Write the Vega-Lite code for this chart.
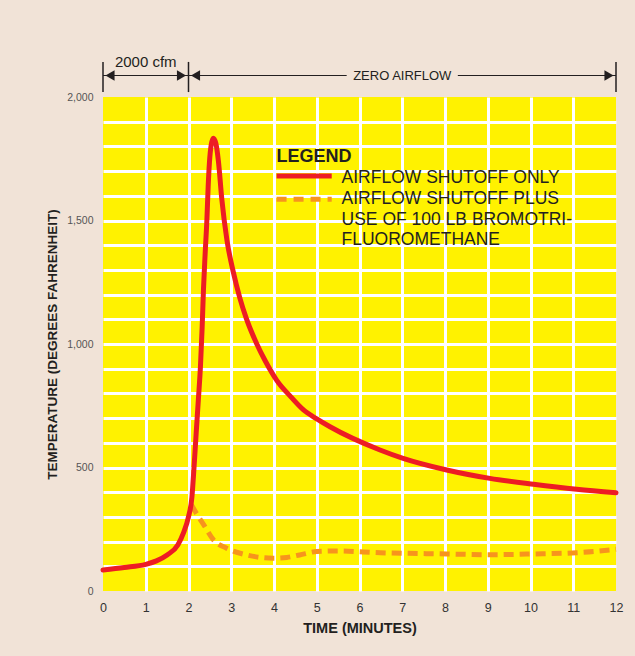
{
  "$schema": "https://vega.github.io/schema/vega-lite/v6.json",
  "width": 513,
  "height": 494,
  "autosize": "none",
  "padding": {"left": 103, "top": 97, "right": 19, "bottom": 65},
  "background": "#F1E3D7",
  "config": {
    "font": "Liberation Sans",
    "view": {"fill": "#FFF200", "stroke": null}
  },
  "encoding": {
    "x": {
      "field": "t", "type": "quantitative",
      "scale": {"domain": [0, 12], "nice": false},
      "axis": {
        "values": [0, 1, 2, 3, 4, 5, 6, 7, 8, 9, 10, 11, 12],
        "labelExpr": "format(datum.value, 'd')",
        "title": "TIME (MINUTES)",
        "titleFontWeight": "bold", "titleFontSize": 14.5, "titleColor": "#231F20",
        "titlePadding": 8,
        "labelFontSize": 12.5, "labelColor": "#333333", "labelPadding": 10, "labelFlush": false,
        "domain": false, "ticks": false,
        "grid": true, "gridWidth": 3, "gridOpacity": 1,
        "gridColor": {"condition": {"test": "datum.value == 0 || datum.value == 12", "value": "transparent"}, "value": "#FFFFFF"}
      }
    },
    "y": {
      "field": "temp", "type": "quantitative",
      "scale": {"domain": [0, 2000], "nice": false},
      "axis": {
        "values": [0, 100, 200, 300, 400, 500, 600, 700, 800, 900, 1000, 1100, 1200, 1300, 1400, 1500, 1600, 1700, 1800, 1900, 2000],
        "labelExpr": "datum.value % 500 == 0 ? format(datum.value, ',d') : ''",
        "title": "TEMPERATURE (DEGREES FAHRENHEIT)",
        "titleFontWeight": "bold", "titleFontSize": 13.5, "titleColor": "#231F20",
        "titlePadding": 7,
        "labelFontSize": 10.5, "labelColor": "#555555", "labelPadding": 10, "labelOverlap": false, "labelFlush": false,
        "domain": false, "ticks": false,
        "grid": true, "gridWidth": 3, "gridOpacity": 1,
        "gridColor": {"condition": {"test": "datum.value == 0 || datum.value == 2000", "value": "transparent"}, "value": "#FFFFFF"}
      }
    }
  },
  "datasets": {
    "curves": [
      {"t": 0, "temp": 85, "series": "only"},
      {"t": 0.5, "temp": 95, "series": "only"},
      {"t": 1, "temp": 108, "series": "only"},
      {"t": 1.25, "temp": 122, "series": "only"},
      {"t": 1.5, "temp": 146, "series": "only"},
      {"t": 1.75, "temp": 186, "series": "only"},
      {"t": 1.88, "temp": 234, "series": "only"},
      {"t": 2.0, "temp": 301, "series": "only"},
      {"t": 2.08, "temp": 380, "series": "only"},
      {"t": 2.13, "temp": 503, "series": "only"},
      {"t": 2.18, "temp": 640, "series": "only"},
      {"t": 2.23, "temp": 773, "series": "only"},
      {"t": 2.28, "temp": 910, "series": "only"},
      {"t": 2.32, "temp": 1070, "series": "only"},
      {"t": 2.35, "temp": 1220, "series": "only"},
      {"t": 2.39, "temp": 1368, "series": "only"},
      {"t": 2.43, "temp": 1502, "series": "only"},
      {"t": 2.46, "temp": 1637, "series": "only"},
      {"t": 2.49, "temp": 1735, "series": "only"},
      {"t": 2.53, "temp": 1805, "series": "only"},
      {"t": 2.58, "temp": 1833, "series": "only"},
      {"t": 2.64, "temp": 1812, "series": "only"},
      {"t": 2.7, "temp": 1740, "series": "only"},
      {"t": 2.78, "temp": 1585, "series": "only"},
      {"t": 2.9, "temp": 1420, "series": "only"},
      {"t": 3.05, "temp": 1290, "series": "only"},
      {"t": 3.2, "temp": 1187, "series": "only"},
      {"t": 3.35, "temp": 1105, "series": "only"},
      {"t": 3.59, "temp": 1003, "series": "only"},
      {"t": 3.8, "temp": 930, "series": "only"},
      {"t": 4.06, "temp": 854, "series": "only"},
      {"t": 4.4, "temp": 785, "series": "only"},
      {"t": 4.69, "temp": 733, "series": "only"},
      {"t": 5.0, "temp": 697, "series": "only"},
      {"t": 5.31, "temp": 665, "series": "only"},
      {"t": 6.48, "temp": 571, "series": "only"},
      {"t": 7.02, "temp": 537, "series": "only"},
      {"t": 8.04, "temp": 490, "series": "only"},
      {"t": 9.05, "temp": 456, "series": "only"},
      {"t": 10.07, "temp": 432, "series": "only"},
      {"t": 11.08, "temp": 412, "series": "only"},
      {"t": 12, "temp": 398, "series": "only"},
      {"t": 2.07, "temp": 348, "series": "plus"},
      {"t": 2.2, "temp": 310, "series": "plus"},
      {"t": 2.35, "temp": 270, "series": "plus"},
      {"t": 2.58, "temp": 208, "series": "plus"},
      {"t": 2.89, "temp": 173, "series": "plus"},
      {"t": 3.36, "temp": 146, "series": "plus"},
      {"t": 3.98, "temp": 133, "series": "plus"},
      {"t": 4.3, "temp": 136, "series": "plus"},
      {"t": 4.6, "temp": 146, "series": "plus"},
      {"t": 5.0, "temp": 160, "series": "plus"},
      {"t": 5.5, "temp": 162, "series": "plus"},
      {"t": 6.48, "temp": 155, "series": "plus"},
      {"t": 8.04, "temp": 150, "series": "plus"},
      {"t": 9.05, "temp": 147, "series": "plus"},
      {"t": 10.07, "temp": 150, "series": "plus"},
      {"t": 11.08, "temp": 155, "series": "plus"},
      {"t": 11.5, "temp": 160, "series": "plus"},
      {"t": 12, "temp": 169, "series": "plus"}
    ],
    "hspans": [
      {"t": 0, "t2": 2, "temp": 2087},
      {"t": 2, "t2": 5.7, "temp": 2087},
      {"t": 8.3, "t2": 12, "temp": 2087}
    ],
    "vticks": [
      {"t": 0, "temp": 2020, "temp2": 2142},
      {"t": 2, "temp": 2020, "temp2": 2142},
      {"t": 12, "temp": 2020, "temp2": 2142}
    ],
    "arrows": [
      {"t": 0, "temp": 2087, "dir": "left"},
      {"t": 2, "temp": 2087, "dir": "right"},
      {"t": 2, "temp": 2087, "dir": "left"},
      {"t": 12, "temp": 2087, "dir": "right"}
    ],
    "toplabels": [
      {"t": 1, "temp": 2142, "label": "2000 cfm", "kind": "cfm"},
      {"t": 7, "temp": 2087, "label": "ZERO AIRFLOW", "kind": "zero"}
    ],
    "legendlines": [
      {"t": 4.06, "t2": 5.35, "temp": 1680, "series": "only"},
      {"t": 4.06, "t2": 5.35, "temp": 1586, "series": "plus"}
    ],
    "legendtitle": [
      {"t": 4.06, "temp": 1757, "label": "LEGEND"}
    ],
    "legendtext": [
      {"t": 5.58, "temp": 1671, "label": "AIRFLOW SHUTOFF ONLY"},
      {"t": 5.58, "temp": 1586, "label": "AIRFLOW SHUTOFF PLUS"},
      {"t": 5.58, "temp": 1502, "label": "USE OF 100 LB BROMOTRI-"},
      {"t": 5.58, "temp": 1421, "label": "FLUOROMETHANE"}
    ]
  },
  "layer": [
    {
      "data": {"name": "curves"},
      "transform": [{"filter": "datum.series == 'plus'"}],
      "mark": {"type": "line", "color": "#F7941D", "strokeWidth": 5, "strokeDash": [10, 6], "interpolate": "monotone"}
    },
    {
      "data": {"name": "curves"},
      "transform": [{"filter": "datum.series == 'only'"}],
      "mark": {"type": "line", "color": "#ED1C24", "strokeWidth": 5, "strokeCap": "round", "interpolate": "monotone"}
    },
    {
      "data": {"name": "hspans"},
      "mark": {"type": "rule", "color": "#231F20", "strokeWidth": 1.2},
      "encoding": {"x2": {"field": "t2"}}
    },
    {
      "data": {"name": "vticks"},
      "mark": {"type": "rule", "color": "#231F20", "strokeWidth": 1.5},
      "encoding": {"y2": {"field": "temp2"}}
    },
    {
      "data": {"name": "arrows"},
      "transform": [{"filter": "datum.dir == 'left'"}],
      "mark": {"type": "point", "shape": "triangle-left", "filled": true, "color": "#231F20", "opacity": 1, "size": 110, "xOffset": 7}
    },
    {
      "data": {"name": "arrows"},
      "transform": [{"filter": "datum.dir == 'right'"}],
      "mark": {"type": "point", "shape": "triangle-right", "filled": true, "color": "#231F20", "opacity": 1, "size": 110, "xOffset": -7}
    },
    {
      "data": {"name": "toplabels"},
      "transform": [{"filter": "datum.kind == 'cfm'"}],
      "mark": {"type": "text", "fontSize": 15, "color": "#231F20", "align": "center", "baseline": "middle"},
      "encoding": {"text": {"field": "label"}}
    },
    {
      "data": {"name": "toplabels"},
      "transform": [{"filter": "datum.kind == 'zero'"}],
      "mark": {"type": "text", "fontSize": 13, "color": "#231F20", "align": "center", "baseline": "middle"},
      "encoding": {"text": {"field": "label"}}
    },
    {
      "data": {"name": "legendlines"},
      "transform": [{"filter": "datum.series == 'only'"}],
      "mark": {"type": "rule", "color": "#ED1C24", "strokeWidth": 5},
      "encoding": {"x2": {"field": "t2"}}
    },
    {
      "data": {"name": "legendlines"},
      "transform": [{"filter": "datum.series == 'plus'"}],
      "mark": {"type": "rule", "color": "#F7941D", "strokeWidth": 5, "strokeDash": [10, 7]},
      "encoding": {"x2": {"field": "t2"}}
    },
    {
      "data": {"name": "legendtitle"},
      "mark": {"type": "text", "fontSize": 18, "fontWeight": "bold", "color": "#231F20", "align": "left", "baseline": "middle"},
      "encoding": {"text": {"field": "label"}}
    },
    {
      "data": {"name": "legendtext"},
      "mark": {"type": "text", "fontSize": 17.5, "color": "#231F20", "align": "left", "baseline": "middle"},
      "encoding": {"text": {"field": "label"}}
    }
  ]
}
